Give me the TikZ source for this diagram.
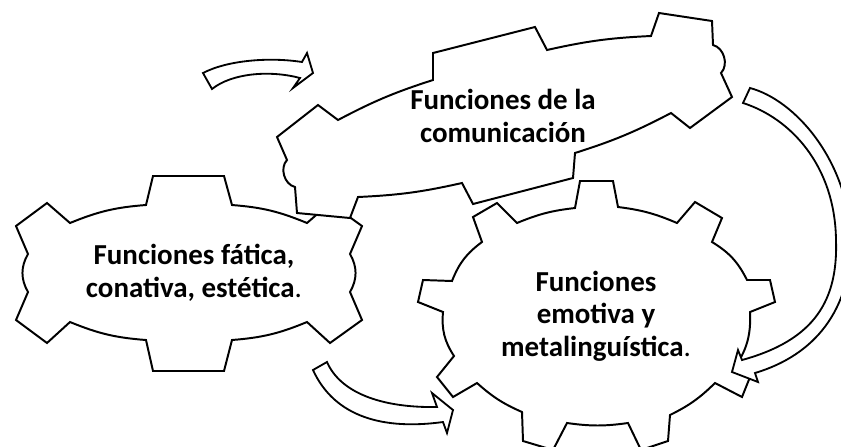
\documentclass[tikz,border=0pt]{standalone}
\usepackage{fontspec}
\setmainfont{Carlito}
\usepackage{tikz}
\tikzset{
    gear/.style={draw, line width=1.4pt, fill=white},
    blockarrow/.style={draw, line width=1.3pt, fill=white},
    gearlabel/.style={align=center, inner sep=0pt, font=\fontsize{20.6pt}{23.1pt}\selectfont\bfseries}}

\begin{document}
\begin{tikzpicture}[x=0.25mm,y=-0.25mm]
\useasboundingbox (0,0) rectangle (841,446);
\clip (0,0) rectangle (841,446);

\draw[gear] (70,223) to[bend left=9] (146,205) -- (153,176) -- (224,176) -- (232,205) to[bend left=9] (307,223) -- (330,203) -- (362,226) -- (350,254) to[bend left=30] (350,292) -- (362,320) -- (330,343) -- (307,322) to[bend left=9] (232,340) -- (224,371) -- (153,371) -- (146,340) to[bend left=9] (70,322) -- (47,343) -- (16,320) -- (28,292) to[bend left=30] (28,254) -- (16,226) -- (47,203) -- cycle;

\draw[gear] (517,223) to[bend left=8] (575,208) -- (580,181) -- (613,181) -- (618,207) to[bend left=8] (677,223) -- (695,202) -- (722,218) -- (712,242) to[bend left=16] (747,280) -- (770,280) -- (775,302) -- (750,312) to[bend left=19] (733,370) -- (750,377) -- (742,397) -- (715,383) to[bend left=9] (670,415) -- (668,441) -- (641,450) -- (628,423) to[bend left=8] (567,423) -- (553,450) -- (523,441) -- (522,412) to[bend left=9] (477,383) -- (453,397) -- (437,377) -- (454,356) to[bend left=19] (443,312) -- (418,302) -- (423,280) -- (452,281) to[bend left=16] (482,242) -- (473,217) -- (497,203) -- cycle;

\draw[gear] (338,120) to[bend left=5] (433,80) -- (433,53) -- (535,27) -- (547,50) to[bend left=5] (651,36) -- (659,13) -- (712,21) -- (713,45) to[bend left=60] (721,73) -- (732,97) -- (690,128) -- (671,113) to[bend left=5] (575,153) -- (573,178) -- (473,204) -- (462,183) to[bend left=5] (358,197) -- (350,218) -- (297,213) -- (295,187) to[bend left=60] (287,160) -- (277,137) -- (318,105) -- cycle;

\draw[blockarrow] (203,73) .. controls (228,60) and (270,57) .. (302,62) -- (307,53) -- (313,73) -- (293,88) -- (300,78) .. controls (270,70) and (232,73) .. (212,89) -- cycle;
\draw[blockarrow] (327,362) .. controls (340,392) and (380,408) .. (437,407) -- (432,393) -- (453,410) -- (447,433) -- (443,422) .. controls (385,430) and (335,418) .. (313,370) -- cycle;
\draw[blockarrow] (750,88) .. controls (795,100) and (848,160) .. (851,240) .. controls (851,310) and (815,355) .. (755,373) -- (758,382) -- (732,372) -- (738,350) -- (742,360) .. controls (815,340) and (838,300) .. (836,240) .. controls (835,165) and (790,118) .. (743,103) -- cycle;

\node[gearlabel] (comm) at (503,116) {Funciones de la\\comunicación};
\node[gearlabel] (fatica) at (194,273) {Funciones fática,\\conativa, estética\textmd{.}};
\node[gearlabel] (emotiva) at (596,316) {Funciones\\emotiva y\\metalinguística\textmd{.}};
\end{tikzpicture}
\end{document}
